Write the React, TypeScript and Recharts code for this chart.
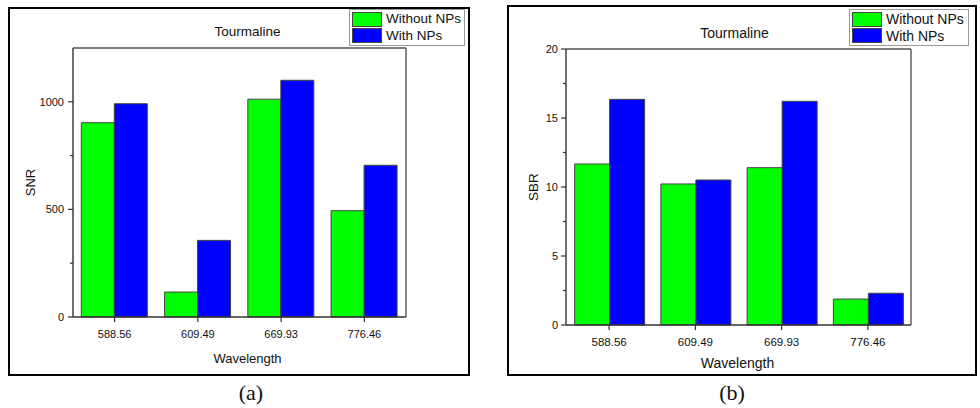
import { BarChart, Bar, XAxis, YAxis, Legend, Label, CartesianGrid } from 'recharts';

// wavelengths (nm) on the x axis
const categories = ['588.56', '609.49', '669.93', '776.46'];

// (a) SNR
const snrWithout = [903, 116, 1012, 494];
const snrWith = [991, 356, 1100, 705];
const snrTicks = [0, 250, 500, 750, 1000];

// (b) SBR
const sbrWithout = [11.67, 10.22, 11.4, 1.88];
const sbrWith = [16.35, 10.51, 16.21, 2.3];
const sbrTicks = [0, 2.5, 5, 7.5, 10, 12.5, 15, 17.5, 20];

const seriesNames = ['Without NPs', 'With NPs'];
const seriesColors = ['#00ff00', '#0000ff'];

const FONT = '"Liberation Sans", Arial, sans-serif';
const AXIS = '#333';

const toRows = (a: number[], b: number[]) =>
  categories.map((name, i) => ({ name, without: a[i], with: b[i] }));

function YTick(props: any) {
  const { x, y, payload, step, gap } = props;
  const ax = x + 8; // tickSize 5 + tickMargin 3
  const major = Math.abs(payload.value / step - Math.round(payload.value / step)) < 1e-6;
  return (
    <g>
      <line x1={ax} x2={ax - (major ? 5 : 3)} y1={y} y2={y} stroke={AXIS} strokeWidth={1.2} />
      {major && (
        <text x={ax - gap} y={y} textAnchor="end" dominantBaseline="central" fontSize={11} fill="#111" fontFamily={FONT}>
          {payload.value}
        </text>
      )}
    </g>
  );
}

function LegendBox({ size }: { size: number }) {
  return (
    <div style={{ border: '1px solid #999', background: '#fff', padding: '1px 2px', fontFamily: FONT, fontSize: size, color: '#111', whiteSpace: 'nowrap' }}>
      {seriesNames.map((n, i) => (
        <div key={n} style={{ display: 'flex', alignItems: 'center', height: 16.5 }}>
          <span style={{ width: 30, height: 15, flex: 'none', background: seriesColors[i], border: '1px solid #444', boxSizing: 'border-box', marginRight: 4 }} />
          <span style={{ lineHeight: '16px' }}>{n}</span>
        </div>
      ))}
    </div>
  );
}

type PanelProps = {
  left: number;
  data: { name: string; without: number; with: number }[];
  yMax: number;
  ticks: number[];
  step: number;
  yLabel: string;
  margin: { top: number; right: number; bottom: number; left: number };
  title: { dx: number; top: number; size: number };
  xTitle: { dx: number; dy: number; size: number };
  yTitleDx: number;
  yTitleSize: number;
  tickGap: number;
  tickSize: number;
  legend: { left: number; top: number; width: number; size: number };
};

function Panel(p: PanelProps) {
  const plotCenter = p.margin.left + 40 + (490 - p.margin.left - 40 - p.margin.right) / 2;
  return (
    <div style={{ position: 'absolute', left: p.left, top: 0, width: 490, height: 408 }}>
      <div
        style={{
          position: 'absolute', left: plotCenter + p.title.dx - 60, width: 120, top: p.title.top,
          textAlign: 'center', fontFamily: FONT, fontSize: p.title.size, lineHeight: `${p.title.size}px`, color: '#111',
        }}
      >
        Tourmaline
      </div>
      <BarChart width={490} height={408} data={p.data} margin={p.margin} barCategoryGap="10%" barGap={0}>
        {/* top and right edges of the plot frame */}
        <CartesianGrid
          stroke="#555"
          strokeWidth={1.4}
          horizontalCoordinatesGenerator={({ offset }: any) => [offset.top]}
          verticalCoordinatesGenerator={({ offset }: any) => [offset.left + offset.width]}
        />
        <XAxis
          dataKey="name"
          height={50}
          tickSize={5}
          tickMargin={8}
          tick={{ fontSize: p.tickSize, fill: '#111', fontFamily: FONT }}
          axisLine={{ stroke: AXIS, strokeWidth: 1.4 }}
          tickLine={{ stroke: AXIS, strokeWidth: 1.2 }}
        >
          <Label
            content={({ viewBox }: any) => (
              <text x={viewBox.x + viewBox.width / 2 + p.xTitle.dx} y={viewBox.y + p.xTitle.dy} textAnchor="middle" fontSize={p.xTitle.size} fill="#111" fontFamily={FONT}>
                Wavelength
              </text>
            )}
          />
        </XAxis>
        <YAxis
          width={40}
          domain={[0, p.yMax]}
          ticks={p.ticks}
          interval={0}
          tickSize={5}
          tickMargin={3}
          tickLine={false}
          tick={(t: any) => <YTick {...t} step={p.step} gap={p.tickGap} />}
          axisLine={{ stroke: AXIS, strokeWidth: 1.4 }}
        >
          <Label
            content={({ viewBox }: any) => {
              const cx = viewBox.x + p.yTitleDx;
              const cy = viewBox.y + viewBox.height / 2;
              return (
                <text x={cx} y={cy} transform={`rotate(-90 ${cx} ${cy})`} textAnchor="middle" dominantBaseline="central" fontSize={p.yTitleSize} fill="#111" fontFamily={FONT}>
                  {p.yLabel}
                </text>
              );
            }}
          />
        </YAxis>
        <Legend
          layout="horizontal"
          verticalAlign="middle"
          align="center"
          wrapperStyle={{ position: 'absolute', left: p.legend.left, top: p.legend.top, width: p.legend.width }}
          content={() => <LegendBox size={p.legend.size} />}
        />
        <Bar dataKey="without" name={seriesNames[0]} fill={seriesColors[0]} stroke="#444" strokeWidth={1} isAnimationActive={false} />
        <Bar dataKey="with" name={seriesNames[1]} fill={seriesColors[1]} stroke="#444" strokeWidth={1} isAnimationActive={false} />
      </BarChart>
    </div>
  );
}

const caption = (left: number, text: string) => (
  <div
    style={{
      position: 'absolute', left: left - 30, width: 60, top: 382, textAlign: 'center',
      fontFamily: '"Liberation Serif", "Times New Roman", serif', fontSize: 22, lineHeight: '22px', color: '#111',
    }}
  >
    {text}
  </div>
);

export default function App() {
  return (
    <div style={{ position: 'absolute', left: 0, top: 0, width: 980, height: 408, background: '#fff' }}>
      <div style={{ position: 'absolute', left: 8, top: 7, width: 462, height: 369, border: '2px solid #000', boxSizing: 'border-box' }} />
      <div style={{ position: 'absolute', left: 507, top: 5, width: 470, height: 371, border: '2px solid #000', boxSizing: 'border-box' }} />
      <Panel
        left={0}
        data={toRows(snrWithout, snrWith)}
        yMax={1250}
        ticks={snrTicks}
        step={500}
        yLabel="SNR"
        margin={{ top: 48, right: 84, bottom: 41, left: 33 }}
        title={{ dx: 8, top: 25, size: 13.5 }}
        xTitle={{ dx: 8, dy: 46, size: 13 }}
        yTitleDx={-3}
        yTitleSize={13}
        tickGap={9}
        tickSize={11}
        legend={{ left: 349, top: 9, width: 116, size: 13.5 }}
      />
      <Panel
        left={490}
        data={toRows(sbrWithout, sbrWith)}
        yMax={20}
        ticks={sbrTicks}
        step={5}
        yLabel="SBR"
        margin={{ top: 49, right: 69, bottom: 33, left: 36 }}
        title={{ dx: -4, top: 25.5, size: 14 }}
        xTitle={{ dx: -1, dy: 43, size: 14 }}
        yTitleDx={7}
        yTitleSize={13.5}
        tickGap={8}
        tickSize={11.5}
        legend={{ left: 359, top: 9, width: 120, size: 14 }}
      />
      {caption(251, '(a)')}
      {caption(732, '(b)')}
    </div>
  );
}
